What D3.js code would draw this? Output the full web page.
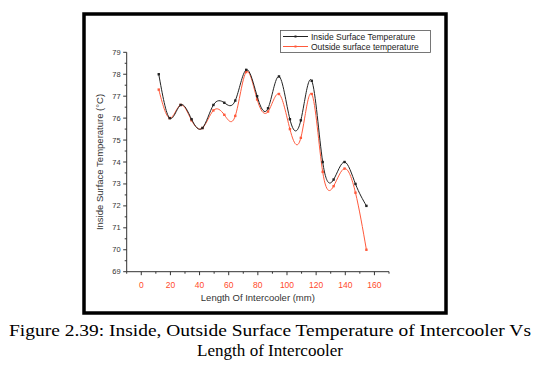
<!DOCTYPE html>
<html>
<head>
<meta charset="utf-8">
<script src="https://cdn.jsdelivr.net/npm/d3@7"></script>
<style>
  body { margin: 0; background: #fff; }
  svg { display: block; }
</style>
</head>
<body>
<div id="chart"></div>
<script>
// data
const lengths = [12, 19.5, 27, 34.5, 42, 49.5, 57, 64.5, 72, 79.5, 87, 94.5, 102, 109.5, 117, 124.5, 132, 139.5, 147, 154.5];
const inside  = [78.0, 76.0, 76.6, 75.95, 75.55, 76.6, 76.7, 76.8, 78.2, 77.0, 76.45, 77.9, 75.95, 75.9, 77.7, 74.0, 73.2, 74.0, 73.0, 72.0];
const outside = [77.3, 76.0, 76.6, 75.9, 75.55, 76.35, 76.15, 76.1, 78.1, 76.85, 76.3, 77.1, 75.5, 75.1, 77.1, 73.55, 72.9, 73.7, 72.6, 70.0];
const xTicks = [0, 20, 40, 60, 80, 100, 120, 140, 160];
const yTicks = [69, 70, 71, 72, 73, 74, 75, 76, 77, 78, 79];
const seriesNames = ["Inside Surface Temperature", "Outside surface temperature"];
const colors = ["#222222", "#ff5a3c"];

const width = 539, height = 376;

const svg = d3.select("#chart")
  .append("svg")
  .attr("width", width)
  .attr("height", height)
  .attr("viewBox", [0, 0, width, height]);

// outer black frame
svg.append("rect")
  .attr("x", 84).attr("y", 14)
  .attr("width", 362).attr("height", 299)
  .attr("fill", "none")
  .attr("stroke", "#000")
  .attr("stroke-width", 3.5);

let x = d3.scaleLinear()
  .domain([-10, 170])
  .range([126.7, 389]);

let y = d3.scaleLinear()
  .domain([69, 79])
  .range([271.7, 52.3]);

const font = "'Liberation Sans', Arial, sans-serif";

// x axis
let gx = svg.append("g")
  .attr("transform", `translate(0,${y(69)})`);
gx.append("line")
  .attr("x1", x(-10)).attr("x2", x(170))
  .attr("stroke", "#333").attr("stroke-width", 1);
gx.selectAll(".minor")
  .data(d3.range(-10, 171, 10).filter(v => !xTicks.includes(v)))
  .join("line")
  .attr("x1", d => x(d)).attr("x2", d => x(d))
  .attr("y1", 0).attr("y2", 2)
  .attr("stroke", "#333");
gx.selectAll(".major")
  .data(xTicks)
  .join("line")
  .attr("x1", d => x(d)).attr("x2", d => x(d))
  .attr("y1", 0).attr("y2", 3.5)
  .attr("stroke", "#333");
gx.selectAll("text")
  .data(xTicks)
  .join("text")
  .attr("x", d => x(d))
  .attr("y", 16)
  .attr("text-anchor", "middle")
  .attr("font-family", font)
  .attr("font-size", 8.5)
  .attr("fill", "#ff4a2a")
  .text(d => d);

// y axis
let gy = svg.append("g")
  .attr("transform", `translate(${x(-10)},0)`);
gy.append("line")
  .attr("y1", y(69)).attr("y2", y(79))
  .attr("stroke", "#333").attr("stroke-width", 1);
gy.selectAll(".minor")
  .data(d3.range(69.5, 79, 1))
  .join("line")
  .attr("y1", d => y(d)).attr("y2", d => y(d))
  .attr("x1", 0).attr("x2", -2)
  .attr("stroke", "#333");
gy.selectAll(".major")
  .data(yTicks)
  .join("line")
  .attr("y1", d => y(d)).attr("y2", d => y(d))
  .attr("x1", 0).attr("x2", -3.5)
  .attr("stroke", "#333");
gy.selectAll("text")
  .data(yTicks)
  .join("text")
  .attr("x", -6)
  .attr("y", d => y(d) + 2.5)
  .attr("text-anchor", "end")
  .attr("font-family", font)
  .attr("font-size", 7.5)
  .attr("fill", "#333")
  .text(d => d);

// axis titles
svg.append("text")
  .attr("x", x(80))
  .attr("y", 301)
  .attr("text-anchor", "middle")
  .attr("font-family", font)
  .attr("font-size", 9.5)
  .attr("fill", "#333")
  .text("Length Of Intercooler (mm)");

svg.append("text")
  .attr("transform", `translate(103,${y(74)}) rotate(-90)`)
  .attr("text-anchor", "middle")
  .attr("font-family", font)
  .attr("font-size", 9.5)
  .attr("fill", "#333")
  .text("Inside Surface Temperature (\u00B0C)");

// series
const series = [inside, outside].map((vals, i) => ({
  name: seriesNames[i],
  color: colors[i],
  points: lengths.map((l, j) => [l, vals[j]])
}));

let line = d3.line()
  .x(d => x(d[0]))
  .y(d => y(d[1]))
  .curve(d3.curveNatural);

// draw outside first so inside sits on top
[...series].reverse().forEach(s => {
  svg.append("path")
    .attr("d", line(s.points))
    .attr("fill", "none")
    .attr("stroke", s.color)
    .attr("stroke-width", 1);
  svg.selectAll(null)
    .data(s.points)
    .join("rect")
    .attr("x", d => x(d[0]) - 1.2)
    .attr("y", d => y(d[1]) - 1.2)
    .attr("width", 2.4)
    .attr("height", 2.4)
    .attr("fill", s.color);
});

// legend
let legend = svg.append("g");
legend.append("rect")
  .attr("x", 280.5).attr("y", 30.5)
  .attr("width", 150).attr("height", 22)
  .attr("fill", "#fff")
  .attr("stroke", "#555")
  .attr("stroke-width", 0.8);
series.forEach((s, i) => {
  let ly = 36.5 + i * 10;
  legend.append("line")
    .attr("x1", 283).attr("x2", 308)
    .attr("y1", ly).attr("y2", ly)
    .attr("stroke", s.color);
  legend.append("rect")
    .attr("x", 294.5).attr("y", ly - 1)
    .attr("width", 2).attr("height", 2)
    .attr("fill", s.color);
  legend.append("text")
    .attr("x", 311)
    .attr("y", ly + 3)
    .attr("font-family", font)
    .attr("font-size", 8.5)
    .attr("fill", "#222")
    .text(s.name);
});

// caption
const caption = ["Figure 2.39: Inside, Outside Surface Temperature of Intercooler Vs", "Length of Intercooler"];
const captionWidths = [522, 146];
svg.selectAll(".caption")
  .data(caption)
  .join("text")
  .attr("x", 270)
  .attr("y", (d, i) => 336 + i * 20)
  .attr("text-anchor", "middle")
  .attr("font-family", "'Liberation Serif', 'Times New Roman', serif")
  .attr("font-size", 17.5)
  .attr("textLength", (d, i) => captionWidths[i])
  .attr("lengthAdjust", "spacingAndGlyphs")
  .attr("fill", "#000")
  .text(d => d);
</script>
</body>
</html>
